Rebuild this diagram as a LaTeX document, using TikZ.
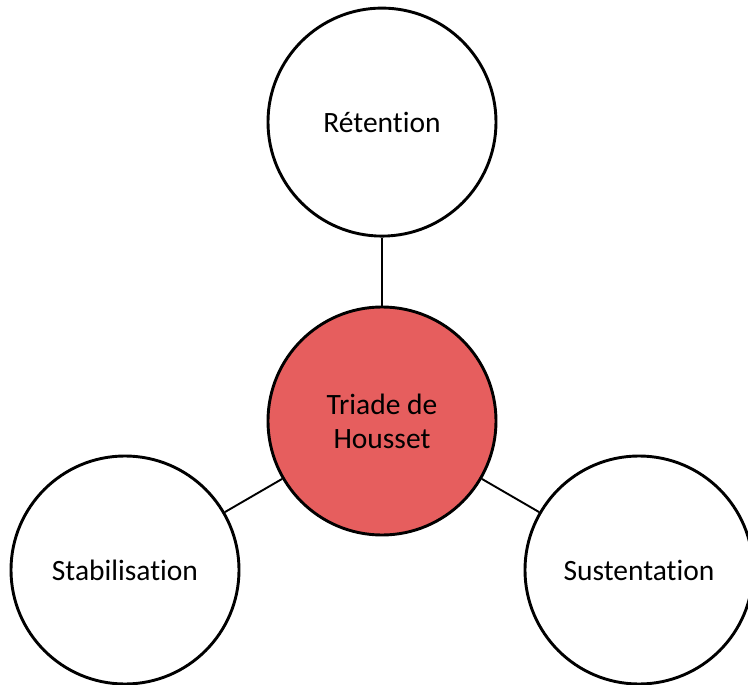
\documentclass[tikz,border=0pt]{standalone}
\usepackage{fontspec}
\setmainfont[Ligatures=NoCommon]{Carlito}
\usepackage{xcolor}
\usepackage{tikz}
\usetikzlibrary{positioning}
\definecolor{triadered}{RGB}{230,94,94}

\begin{document}
\begin{tikzpicture}[
  bubble/.style={circle, draw, line width=2.9pt, fill=white, minimum size=228pt, inner sep=0pt, align=center, font=\fontsize{29.5}{34}\selectfont},
  link/.style={line width=1.9pt}
]
  \useasboundingbox (0,0) rectangle (748pt,-685pt);
  \node[bubble, fill=triadered] (triade) at (382pt,-421pt) {Triade de\\Housset};
  \node[bubble, above=68pt of triade] (retention) {Rétention};
  \node[bubble] (stabilisation) at (125pt,-570pt) {Stabilisation};
  \node[bubble] (sustentation) at (639pt,-570pt) {Sustentation};

  \draw[link] (triade) -- (retention);
  \draw[link] (triade) -- (stabilisation);
  \draw[link] (triade) -- (sustentation);
\end{tikzpicture}
\end{document}
